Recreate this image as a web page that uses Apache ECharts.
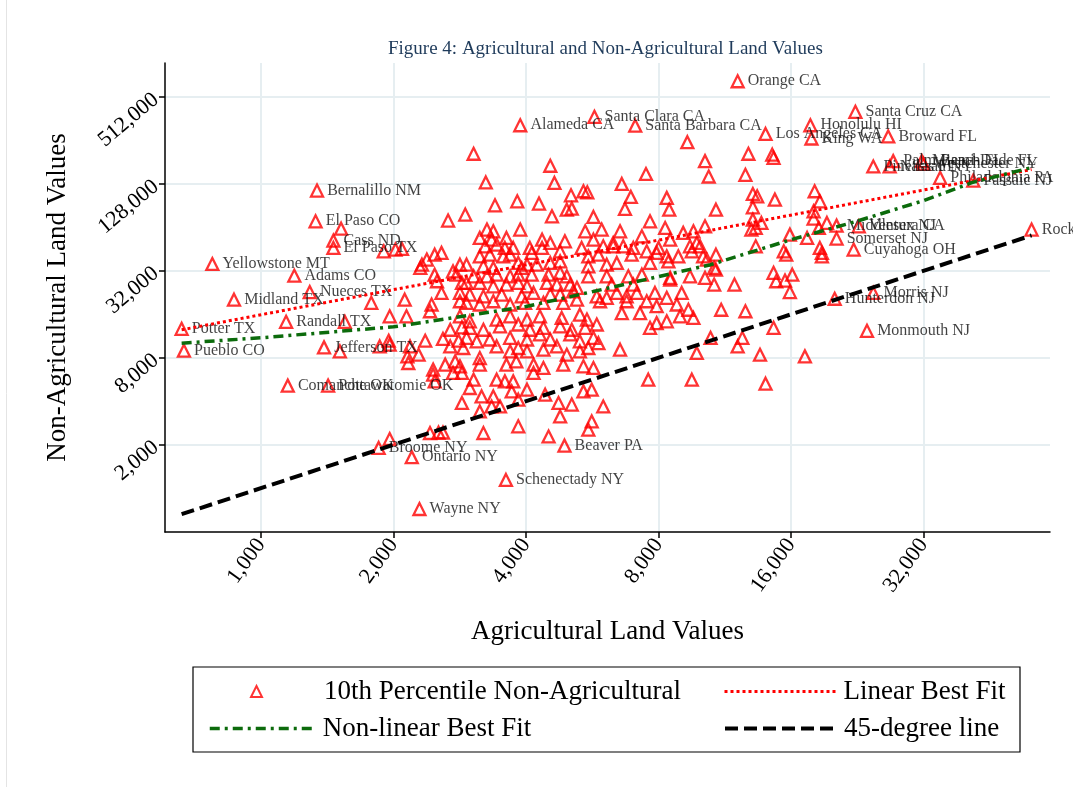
<!DOCTYPE html>
<html>
<head>
<meta charset="utf-8">
<script src="https://cdn.jsdelivr.net/npm/echarts@6/dist/echarts.min.js"></script>
<style>
  html, body { margin: 0; padding: 0; background: #ffffff; }
  #chart { width: 1073px; height: 787px; }
</style>
</head>
<body>
<div id="chart"></div>
<script>
// Tick values on the two log (base 2) axes
const xTicks = [1000, 2000, 4000, 8000, 16000, 32000];
const yTicks = [2000, 8000, 32000, 128000, 512000];

// Counties that carry a name label
const countyNames = [
  'Orange CA', 'Santa Clara CA', 'Alameda CA', 'Santa Barbara CA', 'Santa Cruz CA',
  'Honolulu HI', 'Los Angeles CA', 'King WA', 'Broward FL', 'Bernalillo NM',
  'El Paso CO', 'Cass ND', 'El Paso TX', 'Yellowstone MT', 'Adams CO',
  'Nueces TX', 'Midland TX', 'Potter TX', 'Randall TX', 'Pueblo CO',
  'Jefferson TX', 'Comanche OK', 'Pottawatomie OK', 'Broome NY', 'Ontario NY',
  'Wayne NY', 'Schenectady NY', 'Beaver PA', 'Hunterdon NJ', 'Morris NJ',
  'Monmouth NJ', 'Cuyahoga OH', 'Somerset NJ', 'Middlesex NJ', 'Ventura CA',
  'Rockland NY', 'Philadelphia PA', 'Passaic NJ', 'Pinellas FL', 'Nassau NY',
  'Palm Beach FL', 'Miami-Dade FL', 'Westchester NY'
];
const countyAg = [
  12100, 5720, 3880, 7080, 22400,
  17700, 14000, 17800, 26600, 1340,
  1330, 1460, 1460, 775, 1190,
  1290, 868, 660, 1140, 668,
  1390, 1150, 1420, 1850, 2200,
  2290, 3600, 4890, 20100, 24600,
  23800, 22200, 20300, 20300, 22800,
  56300, 34900, 41500, 24600, 26800,
  27300, 31700, 32000
];
const countyNonAg = [
  658000, 373000, 326000, 324000, 404000,
  326000, 284000, 264000, 273000, 115000,
  70500, 51800, 46100, 35700, 29600,
  22800, 20200, 12700, 14200, 8960,
  9440, 5130, 5130, 1900, 1640,
  717, 1140, 1970, 20500, 22500,
  12300, 44900, 53500, 65800, 65100,
  61800, 141000, 135000, 169000, 169000,
  184000, 184000, 176000
];

// Remaining counties: [agricultural, non-agricultural]
const otherCounties = [
  [9300,249000],[3040,207000],[4540,171000],[10200,184000],[12800,207000],[10400,144000],[12600,148000],
  [3240,131000],[4640,130000],[7490,150000],[6600,128000],[3820,97000],[3400,90900],[4280,93500],
  [5060,106700],[5400,113800],[5510,112000],[6920,104000],[8350,102400],[13100,109000],[4950,84900],
  [5080,86300],[6710,85900],[8460,84900],[10800,84900],[13100,88100],[2910,78500],[4580,76300],[5690,75600],
  [14500,204000],[14600,194000],[18100,113800],[18600,97000],[14700,99600],[13400,105000],[18000,82700],
  [18000,73600],[19300,68700],[18500,63400],[13700,68700],[13300,63400],[15900,57000],[17400,54100],
  [15400,43700],[15600,41400],[18600,46100],[18800,42600],[18800,40300],[14600,31000],[16100,30100],
  [14800,27100],[15500,27400],[15900,22800],[14600,12900],[13600,8400],[17200,8180],[13300,47300],
  [1520,62700],[1900,43700],[2020,44900],[2090,45400],[2660,71300],[1780,19200],[2120,20200],[1550,14200],
  [1960,15500],[2140,15500],[1510,8860],[1860,9590],[1950,10500],[1960,9860],[2180,9590],[2360,10500],
  [2590,10800],[2690,9590],[2810,10500],[2150,8180],[2160,7360],[2280,8400],[2460,6620],[2620,7170],
  [2760,7550],[2830,6980],[2320,35300],[2380,38300],[2480,41400],[2570,42600],[2300,33500],[2480,30100],
  [2510,27100],[2570,22500],[2730,31700],[2780,30100],[2830,35300],[2860,26400],[2830,22500],[2830,19700],
  [2440,18700],[2420,16800],[2690,12500],[2860,13000],
  [2460,6110],[2480,5490],[2730,6280],[2860,6280],[1960,2190],[2420,2410],[2530,2430],[2590,2430],
  [2860,3890],[3040,5640],[2980,4940],[3170,4320],[3370,4320],[3430,5640],[3580,5490],[3740,5490],
  [3710,4680],[4020,4810],[3840,4100],[3340,3680],[3490,3680],[3140,3400],[3200,2410],[3840,2680],
  [4160,6280],[4420,4440],[4740,3890],[5080,3790],[4780,3140],[4500,2280],[5400,4680],[5640,4810],
  [5990,3680],[5640,2900],[5540,2540],[7580,5640],[9520,5640],[14000,5290],
  [7650,70500],[13100,72400],
  [3260,61800],[3370,60100],[3880,61800],[5450,60100],[5940,61800],[6540,60100],[8280,63400],[9100,58600],
  [9600,60100],[10200,65100],[13000,61800],
  [3140,54100],[3340,52600],[3610,54100],[4350,52600],[4900,51200],[5690,52600],[6310,49900],[7330,55500],
  [8500,52600],[9770,49900],
  [3230,47300],[3430,48600],[3580,46100],[3740,46100],[4080,46100],[4350,46100],[4540,49900],[5350,46100],
  [5990,47300],[6310,47300],[6650,47300],[7010,46100],[8000,46100],[9430,47300],[9940,47300],
  [3140,40300],[3310,41400],[3550,40300],[3680,41400],[4120,42600],[4780,43700],[5540,40300],[5840,41400],
  [6950,41400],[7520,43700],[7920,42600],[8350,40300],[8870,40300],[9520,43700],[10100,40300],[10800,41400],
  [2930,35300],[3200,34400],[3370,33500],[3840,36300],[3910,33500],[4020,35300],[4230,35300],[4540,36300],
  [4780,37200],[5540,34400],[6100,35300],[6430,36300],[7650,36300],[8420,37200],[10300,38300],[10700,33500],
  [3040,29300],[3260,29300],[3430,30100],[3680,29300],[3840,30100],[4120,30100],[4500,30100],[4780,31000],
  [4950,29300],[5540,29300],[6100,29300],[6830,29300],[7330,30100],[8500,28600],[9430,29300],[10200,28600],
  [10800,32600],
  [2930,26400],[3140,26400],[3370,25000],[3610,25700],[3840,26400],[4020,25000],[4460,26400],[4700,25700],
  [5040,25700],[5220,24400],[6260,25700],[7010,25700],[8500,27800],[10700,25700],[11900,25700],
  [2980,21900],[3200,21300],[3520,21900],[3910,21300],[4160,22500],[4540,21900],[4780,21900],[5120,23100],
  [5790,21300],[6100,20800],[6430,22500],[6770,21300],[7140,22500],[7850,22500],[8350,20800],[9030,22500],
  [2930,19200],[3140,18700],[3370,19700],[3680,18700],[3980,19200],[4380,19200],[4860,19200],[5220,20200],
  [5890,19700],[6770,19700],[7520,19700],[7920,18200],[8800,18700],[9350,17200],[11100,17200],[12600,16800],
  [2830,15500],[2980,14300],[3430,14700],[3680,15500],[4020,14700],[4300,15500],[4820,15100],[5300,15900],
  [5500,14700],[6600,16300],[7260,16300],[8350,14300],[8950,15500],[9600,15100],
  [2980,12900],[3200,12500],[3490,13200],[3840,13600],[4080,12500],[4380,12900],[4780,13200],[5080,12500],
  [5450,12900],[5790,13600],[7650,12900],[7920,13900],
  [2930,11000],[3090,10400],[3310,10700],[3680,11000],[4020,10700],[4300,11600],[4540,10700],[5040,11600],
  [5300,10400],[5690,11000],[5840,10100],[10500,11000],[12100,9590],[12400,11000],
  [2880,9350],[3140,7970],[3430,9590],[3680,8860],[3840,9350],[4020,8860],[4380,9100],[4700,9590],
  [4950,8400],[5300,8860],[5540,9350],[6540,9100],[9770,8640],
  [3140,7170],[3610,7170],[3800,7550],[4160,7170],[4380,6800],[4860,7170],[5400,6980],[5690,6800]
];

// Fitted curves
const linearFitAg = [660, 2000, 8000, 56300];
const linearFitNonAg = [12500, 23700, 52200, 160800];
const nonlinearFitAg = [660, 1000, 2000, 4000, 5680, 8000, 10500, 16000, 22400, 32000, 41200, 56300];
const nonlinearFitNonAg = [10100, 11000, 13100, 18100, 23000, 29200, 35300, 52600, 70100, 98000, 130700, 166000];

const serif = '"Liberation Serif", "Times New Roman", serif';
const fmtNum = v => Math.round(v).toLocaleString('en-US');

const allAg = countyAg.concat(otherCounties.map(p => p[0]));
const agMin = Math.min.apply(null, allAg);
const agMax = Math.max.apply(null, allAg);

const SCATTER = '10th Percentile Non-Agricultural';
const LINEAR = 'Linear Best Fit';
const NONLIN = 'Non-linear Best Fit';
const DIAG = '45-degree line';

const triStyle = { color: 'rgba(0,0,0,0)', borderColor: '#ff0000', borderWidth: 2.3 };
const legendText = pad => ({ fontFamily: serif, fontSize: 27, color: '#000', padding: [0, 0, 0, pad] });
const hiddenDot = { opacity: 0 };

// One legend block per key so each key keeps its own width
function legendBlock(name, left, top, width, height, pad) {
  return {
    left: left, top: top, itemWidth: width, itemHeight: height,
    selectedMode: false, textStyle: legendText(pad), data: [name]
  };
}

const chart = echarts.init(document.getElementById('chart'), null, { renderer: 'canvas' });
chart.setOption({
  backgroundColor: '#ffffff',
  animation: false,
  title: {
    text: 'Figure 4: Agricultural and Non-Agricultural Land Values',
    left: 383, top: 35,
    textStyle: { fontFamily: serif, fontSize: 19, fontWeight: 'normal', color: '#1f3b5b' }
  },
  grid: { left: 165, right: 23, top: 63, bottom: 255 },
  xAxis: {
    type: 'log', logBase: 2, min: 605, max: 62000,
    name: 'Agricultural Land Values', nameLocation: 'middle', nameGap: 86,
    nameTextStyle: { fontFamily: serif, fontSize: 27, color: '#000' },
    axisLine: { show: true, onZero: false, lineStyle: { color: '#000', width: 1.5 } },
    axisTick: { show: true, length: 6, customValues: xTicks, lineStyle: { color: '#000', width: 1.5 } },
    axisLabel: { customValues: xTicks, rotate: 54, margin: 9, formatter: fmtNum,
      fontFamily: serif, fontSize: 22, color: '#000' },
    splitLine: { show: true, lineStyle: { color: '#e6eef1', width: 2 } }
  },
  yAxis: {
    type: 'log', logBase: 2, min: 497, max: 880000,
    name: 'Non-Agricultural Land Values', nameLocation: 'middle', nameGap: 94,
    nameTextStyle: { fontFamily: serif, fontSize: 27, color: '#000' },
    axisLine: { show: true, onZero: false, lineStyle: { color: '#000', width: 1.5 } },
    axisTick: { show: true, length: 6, customValues: yTicks, lineStyle: { color: '#000', width: 1.5 } },
    axisLabel: { customValues: yTicks, rotate: 40, margin: 9, formatter: fmtNum,
      fontFamily: serif, fontSize: 22, color: '#000' },
    splitLine: { show: true, lineStyle: { color: '#e6eef1', width: 2 } }
  },
  legend: [
    legendBlock(SCATTER, 245, 673, 11, 11, 57),
    legendBlock({ name: NONLIN, itemStyle: hiddenDot, lineStyle: { width: 3.5 } }, 203, 710, 107, 14, 1),
    legendBlock({ name: LINEAR, itemStyle: hiddenDot, lineStyle: { width: 3 } }, 718, 673, 114, 14, 0),
    legendBlock({ name: DIAG, itemStyle: hiddenDot, lineStyle: { width: 4 } }, 718, 710, 114, 14, 0)
  ],
  graphic: [
    { type: 'line', shape: { x1: 6.5, y1: 0, x2: 6.5, y2: 787 },
      style: { stroke: '#e4e4e4', lineWidth: 1 }, silent: true },
    { type: 'rect', shape: { x: 193, y: 667, width: 827, height: 85 },
      style: { fill: 'none', stroke: '#000', lineWidth: 1.2 }, silent: true }
  ],
  series: [
    {
      name: SCATTER, type: 'scatter', symbol: 'triangle', symbolSize: 12,
      itemStyle: triStyle, emphasis: { disabled: true },
      data: otherCounties
    },
    {
      name: SCATTER, type: 'scatter', symbol: 'triangle', symbolSize: 12,
      itemStyle: triStyle, emphasis: { disabled: true },
      label: { show: true, position: 'right', distance: 3, formatter: '{b}',
        fontFamily: serif, fontSize: 16, color: '#111' },
      data: countyNames.map((n, i) => ({ name: n, value: [countyAg[i], countyNonAg[i]] }))
    },
    {
      name: LINEAR, type: 'line', symbol: 'none', emphasis: { disabled: true },
      lineStyle: { color: '#ff0000', width: 3, type: 'dotted' },
      itemStyle: { color: '#ff0000' },
      data: linearFitAg.map((x, i) => [x, linearFitNonAg[i]])
    },
    {
      name: NONLIN, type: 'line', symbol: 'none', emphasis: { disabled: true },
      lineStyle: { color: '#0c6b0c', width: 3.5, type: [10, 5, 3, 5] },
      itemStyle: { color: '#0c6b0c' },
      data: nonlinearFitAg.map((x, i) => [x, nonlinearFitNonAg[i]])
    },
    {
      name: DIAG, type: 'line', symbol: 'none', emphasis: { disabled: true },
      lineStyle: { color: '#000', width: 4, type: [13, 6] },
      itemStyle: { color: '#000' },
      data: [[agMin, agMin], [agMax, agMax]]
    }
  ]
});
</script>
</body>
</html>
